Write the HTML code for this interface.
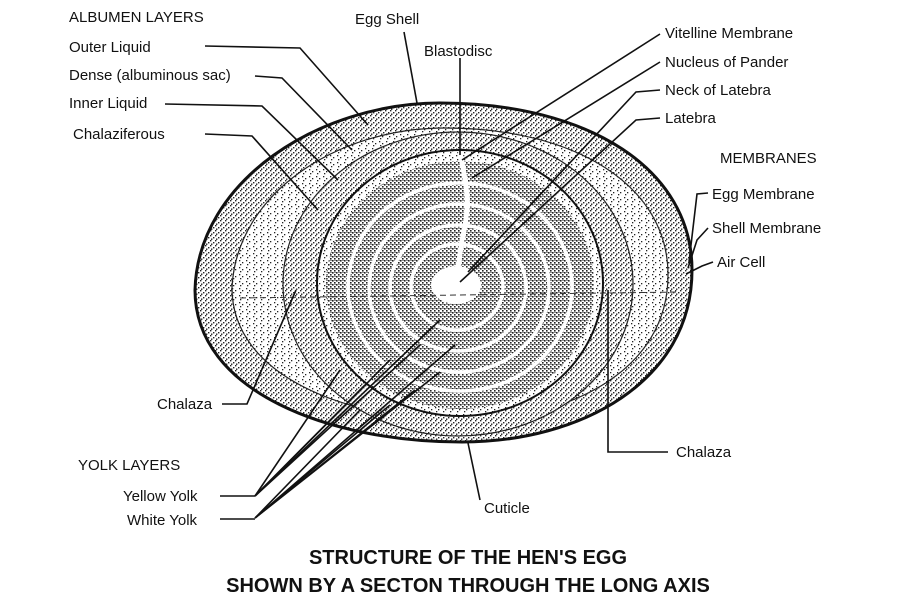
<!DOCTYPE html>
<html><head><meta charset="utf-8"><style>
html,body{margin:0;padding:0;background:#fff}
svg{display:block}
text{font-family:"Liberation Sans",Arial,sans-serif;fill:#111}
</style></head><body>
<svg width="924" height="610" viewBox="0 0 924 610" xmlns="http://www.w3.org/2000/svg">
<defs>
<pattern id="p1" width="7" height="7" patternUnits="userSpaceOnUse">
<rect width="7" height="7" fill="#fff"/>
<rect x="1" y="1" width="1.3" height="1.3" fill="#222"/><rect x="4" y="3" width="1.3" height="1.3" fill="#222"/><rect x="2" y="5" width="1.3" height="1.3" fill="#222"/>
</pattern>
<pattern id="p2" width="5" height="5" patternUnits="userSpaceOnUse">
<rect width="5" height="5" fill="#fff"/>
<rect x="0" y="0" width="1.4" height="1.4" fill="#222"/><rect x="3" y="2" width="1.4" height="1.4" fill="#222"/><rect x="1" y="3.5" width="1.4" height="1.4" fill="#222"/>
</pattern>
<pattern id="p3" width="4" height="4" patternUnits="userSpaceOnUse">
<rect width="4" height="4" fill="#fff"/>
<rect x="0" y="0" width="1.6" height="1.6" fill="#222"/><rect x="2" y="2" width="1.6" height="1.6" fill="#222"/><rect x="2.5" y="0" width="1" height="1" fill="#222"/>
</pattern>
</defs>
<!-- egg -->
<path d="M195,290 C198,180 320,103 440,103 C590,103 692,170 692,270 C692,382 580,442 462,442 C330,442 195,392 195,290 Z" fill="url(#p2)" stroke="#111" stroke-width="3"/>
<path d="M232,288 C236,195 335,128 445,128 C575,128 668,185 668,275 C668,370 570,420 462,420 C345,420 232,375 232,288 Z" fill="url(#p1)" stroke="#222" stroke-width="1.2"/>
<ellipse cx="458" cy="284" rx="175" ry="152" fill="url(#p2)" stroke="#222" stroke-width="1.2"/>
<ellipse cx="460" cy="283" rx="143" ry="133" fill="url(#p1)" stroke="#111" stroke-width="2"/>
<!-- yolk rings -->
<ellipse cx="460" cy="285" rx="134" ry="124" fill="url(#p3)"/>
<g fill="none" stroke="#fff" stroke-width="3.5">
<ellipse cx="460" cy="287" rx="112" ry="104"/>
<ellipse cx="459" cy="288" rx="90" ry="84"/>
<ellipse cx="458" cy="288" rx="68" ry="63"/>
<ellipse cx="457" cy="287" rx="46" ry="43"/>
</g>
<path d="M460,152 C465,180 472,200 462,240 L458,268" stroke="#fff" stroke-width="5" fill="none"/>
<ellipse cx="456" cy="285" rx="25" ry="19" fill="#fff"/>
<line x1="240" y1="298" x2="680" y2="292" stroke="#333" stroke-width="1" stroke-dasharray="6 4"/>
<!-- leader lines -->
<g stroke="#111" stroke-width="1.6" fill="none">
<polyline points="205,46 300,48 368,125"/>
<polyline points="255,76 282,78 352,150"/>
<polyline points="165,104 262,106 338,180"/>
<polyline points="205,134 252,136 318,210"/>
<line x1="404" y1="32" x2="417" y2="103"/>
<line x1="460" y1="58" x2="460" y2="155"/>
<line x1="660" y1="34" x2="462" y2="160"/>
<line x1="660" y1="62" x2="472" y2="178"/>
<polyline points="660,90 636,92 468,272"/>
<polyline points="660,118 636,120 460,282"/>
<polyline points="708,193 697,194 689,262"/>
<polyline points="708,228 697,240 688,268"/>
<polyline points="713,262 702,266 686,274"/>
<polyline points="668,452 608,452 608,290"/>
<line x1="480" y1="500" x2="468" y2="443"/>
<polyline points="222,404 247,404 296,290"/>
<line x1="255" y1="496" x2="340" y2="370"/>
<line x1="255" y1="496" x2="365" y2="385"/>
<line x1="255" y1="496" x2="390" y2="360"/>
<line x1="255" y1="496" x2="420" y2="345"/>
<line x1="255" y1="496" x2="440" y2="320"/>
<line x1="255" y1="518" x2="360" y2="410"/>
<line x1="255" y1="518" x2="390" y2="405"/>
<line x1="255" y1="518" x2="415" y2="390"/>
<line x1="255" y1="518" x2="440" y2="372"/>
<line x1="255" y1="518" x2="455" y2="345"/>
<line x1="220" y1="496" x2="255" y2="496"/>
<line x1="220" y1="519" x2="255" y2="519"/>
</g>
<!-- labels -->
<g font-size="15">
<text x="69" y="22">ALBUMEN LAYERS</text>
<text x="69" y="52">Outer Liquid</text>
<text x="69" y="80">Dense (albuminous sac)</text>
<text x="69" y="108">Inner Liquid</text>
<text x="73" y="139">Chalaziferous</text>
<text x="355" y="24">Egg Shell</text>
<text x="424" y="56">Blastodisc</text>
<text x="665" y="38">Vitelline Membrane</text>
<text x="665" y="67">Nucleus of Pander</text>
<text x="665" y="95">Neck of Latebra</text>
<text x="665" y="123">Latebra</text>
<text x="720" y="163">MEMBRANES</text>
<text x="712" y="199">Egg Membrane</text>
<text x="712" y="233">Shell Membrane</text>
<text x="717" y="267">Air Cell</text>
<text x="157" y="409">Chalaza</text>
<text x="676" y="457">Chalaza</text>
<text x="78" y="470">YOLK LAYERS</text>
<text x="123" y="501">Yellow Yolk</text>
<text x="127" y="525">White Yolk</text>
<text x="484" y="513">Cuticle</text>
</g>
<g font-size="20" font-weight="bold" text-anchor="middle">
<text x="468" y="564">STRUCTURE OF THE HEN'S EGG</text>
<text x="468" y="592">SHOWN BY A SECTON THROUGH THE LONG AXIS</text>
</g>
</svg>
</body></html>
